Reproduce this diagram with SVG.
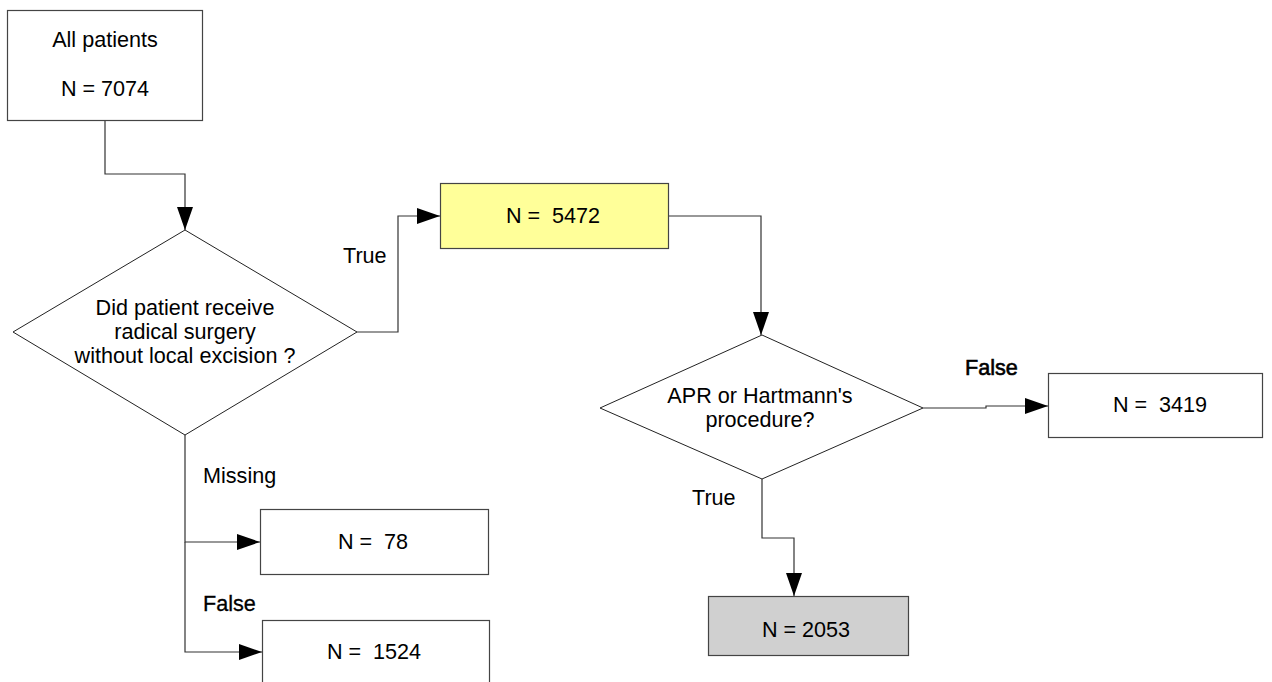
<svg xmlns="http://www.w3.org/2000/svg" width="1272" height="682" viewBox="0 0 1272 682">
<style>
text{font-family:"Liberation Sans",Arial,sans-serif;font-size:21.6px;fill:#000;white-space:pre}
.c{text-anchor:middle}
.box{stroke:#444;stroke-width:1.2;fill:#fff}
.dia{stroke:#222;stroke-width:1;fill:#fff}
.con{fill:none;stroke:#333;stroke-width:1.2}
.bold{stroke:#000;stroke-width:0.6}
</style>
<defs>
<marker id="ah" markerWidth="24" markerHeight="16" refX="23" refY="8" orient="auto" markerUnits="userSpaceOnUse">
<path d="M0,0 L23,8 L0,16 Z" fill="#000"/>
</marker>
</defs>
<rect width="1272" height="682" fill="#fff"/>
<g id="connectors">
<path class="con" d="M105,120 V174 H185 V230" marker-end="url(#ah)"/>
<path class="con" d="M357,332 H398 V216 H440" marker-end="url(#ah)"/>
<path class="con" d="M668,216 H761 V335" marker-end="url(#ah)"/>
<path class="con" d="M923,408 H986 V406 H1048" marker-end="url(#ah)"/>
<path class="con" d="M762,479 V538 H794 V596" marker-end="url(#ah)"/>
<path class="con" d="M185,435 V542 H260" marker-end="url(#ah)"/>
<path class="con" d="M185,542 V652 H262" marker-end="url(#ah)"/>
</g>
<g id="labels">
<text x="343" y="263">True</text>
<text x="965" y="375" class="bold">False</text>
<text x="692" y="505">True</text>
<text x="203" y="483">Missing</text>
<text x="203" y="611" class="bold" style="stroke-width:0.3">False</text>
</g>
<g id="all-patients">
<rect class="box" x="7.5" y="10.5" width="195" height="110"/>
<text class="c" x="105" y="47">All patients</text>
<text class="c" x="105" y="96">N = 7074</text>
</g>
<g id="decision1">
<polygon class="dia" points="185,230 357,332 185,435 13,332"/>
<text class="c" x="185" y="315">Did patient receive</text>
<text class="c" x="185" y="339">radical surgery</text>
<text class="c" x="185" y="363">without local excision ?</text>
</g>
<g id="n5472">
<rect class="box" x="440.5" y="183.5" width="228" height="65" style="fill:#ffff99"/>
<text class="c" x="553" y="223" xml:space="preserve">N =  5472</text>
</g>
<g id="decision2">
<polygon class="dia" points="762,335 923,408 762,479 600,408"/>
<text class="c" x="760" y="403">APR or Hartmann's</text>
<text class="c" x="760" y="427">procedure?</text>
</g>
<g id="n3419">
<rect class="box" x="1048.5" y="373.5" width="214" height="64"/>
<text class="c" x="1160" y="412" xml:space="preserve">N =  3419</text>
</g>
<g id="n2053">
<rect class="box" x="708.5" y="596.5" width="200" height="59" style="fill:#d0d0d0"/>
<text class="c" x="806" y="637">N = 2053</text>
</g>
<g id="n78">
<rect class="box" x="260.5" y="509.5" width="228" height="65"/>
<text class="c" x="373" y="549" xml:space="preserve">N =  78</text>
</g>
<g id="n1524">
<rect class="box" x="262.5" y="620.5" width="227" height="70"/>
<text class="c" x="374" y="659" xml:space="preserve">N =  1524</text>
</g>
</svg>
